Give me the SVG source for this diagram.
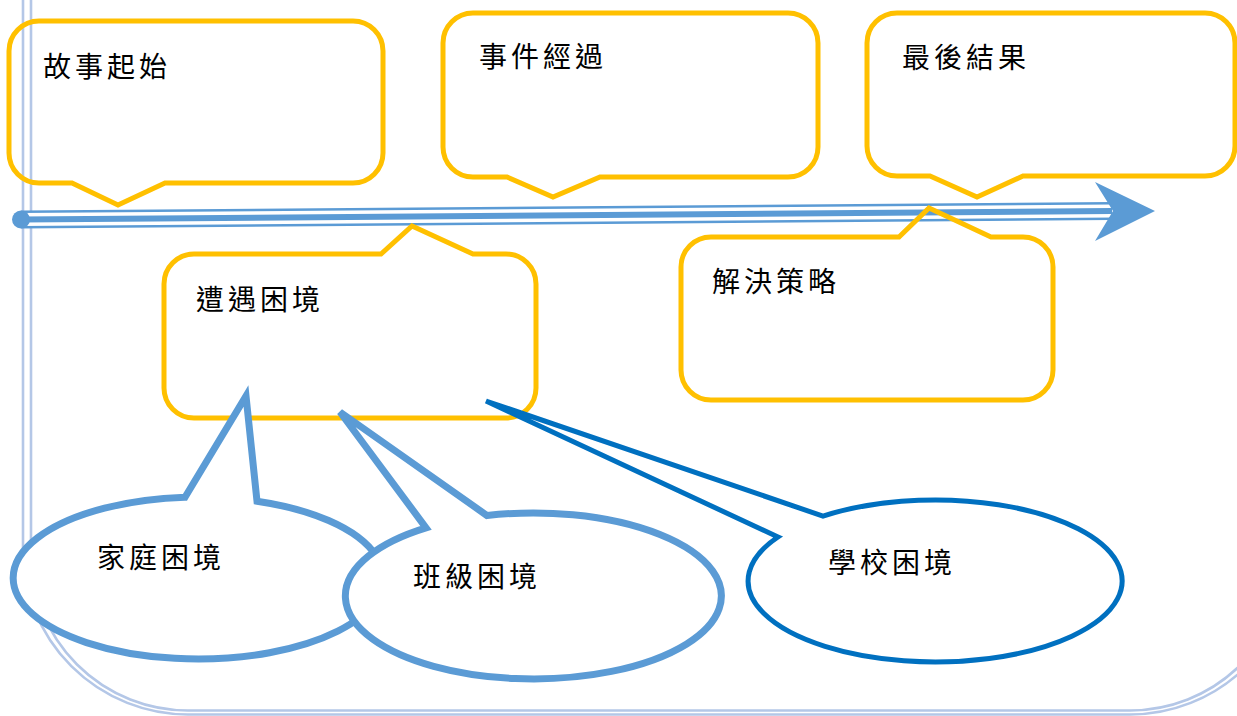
<svg xmlns="http://www.w3.org/2000/svg" width="1237" height="716" viewBox="0 0 1237 716">
<style>
.frame{fill:none;stroke:#b4c7e7;stroke-width:2.6}
.box{fill:none;stroke:#ffc000;stroke-width:5;stroke-linejoin:miter}
.bub{fill:#ffffff;stroke:#5b9bd5;stroke-width:7}
.bub3{fill:#ffffff;stroke:#0070c0;stroke-width:5}
.lbl{font-family:"Noto Sans CJK TC","Noto Sans CJK SC",sans-serif;font-size:28px;letter-spacing:4px;fill:#000000}
</style>
<rect width="1237" height="716" fill="#ffffff"/>
<g id="frame">
<path class="frame" d="M23,-10 V549.5 A165,165 0 0 0 188,714.5 H1130 A165,165 0 0 0 1295,549.5 V-10"/>
<path class="frame" d="M31,-10 V553.5 A157,157 0 0 0 188,710.5 H1130 A157,157 0 0 0 1287,553.5 V-10"/>
</g>
<g id="connectors">
<g id="timeline">
<line x1="21" y1="219.5" x2="1112" y2="211" stroke="#5b9bd5" stroke-width="18"/>
<line x1="21" y1="219.5" x2="1112" y2="211" stroke="#ffffff" stroke-width="13"/>
<line x1="21" y1="219.5" x2="1112" y2="211" stroke="#5b9bd5" stroke-width="6"/>
<circle cx="21" cy="219.5" r="9" fill="#5b9bd5"/>
<polygon points="1155,211 1095,182 1113,211 1095,241" fill="#5b9bd5"/>
</g>
</g>
<g id="node-start">
<path class="box" d="M39,21 H353 A30,30 0 0 1 383,51 V153 A30,30 0 0 1 353,183 H165 L118,205 L72,183 H39 A30,30 0 0 1 9,153 V51 A30,30 0 0 1 39,21 Z"/>
<text class="lbl" x="43" y="77">故事起始</text>
</g>
<g id="node-process">
<path class="box" d="M473,13 H788 A30,30 0 0 1 818,43 V147 A30,30 0 0 1 788,177 H600 L553,197 L507,177 H473 A30,30 0 0 1 443,147 V43 A30,30 0 0 1 473,13 Z"/>
<text class="lbl" x="479" y="67">事件經過</text>
</g>
<g id="node-result">
<path class="box" d="M897,13 H1205 A30,30 0 0 1 1235,43 V146 A30,30 0 0 1 1205,176 H1023 L977,197 L930,176 H897 A30,30 0 0 1 867,146 V43 A30,30 0 0 1 897,13 Z"/>
<text class="lbl" x="902" y="68">最後結果</text>
</g>
<g id="node-trouble">
<path class="box" d="M194,254 H381 L412,226 L473,254 H506 A30,30 0 0 1 536,284 V388 A30,30 0 0 1 506,418 H194 A30,30 0 0 1 164,388 V284 A30,30 0 0 1 194,254 Z"/>
<text class="lbl" x="196" y="310">遭遇困境</text>
</g>
<g id="node-solution">
<path class="box" d="M711,237 H899 L929,208 L991,237 H1023 A30,30 0 0 1 1053,267 V370 A30,30 0 0 1 1023,400 H711 A30,30 0 0 1 681,370 V267 A30,30 0 0 1 711,237 Z"/>
<text class="lbl" x="712" y="292">解決策略</text>
</g>
<g id="node-family">
<path class="bub" d="M185,497.2 L246,396 L257,501.2 A185,81 0 1 1 185,497.2 Z"/>
<text class="lbl" x="97" y="568">家庭困境</text>
</g>
<g id="node-class">
<path class="bub" d="M426,527.8 L340,412 L487,515.5 A188,83 0 1 1 426,527.8 Z"/>
<text class="lbl" x="413" y="587">班級困境</text>
</g>
<g id="node-school">
<path class="bub3" d="M778,537 L486,401 L823,516.1 A187,81 0 1 1 778,537 Z"/>
<text class="lbl" x="828" y="573">學校困境</text>
</g>
</svg>
